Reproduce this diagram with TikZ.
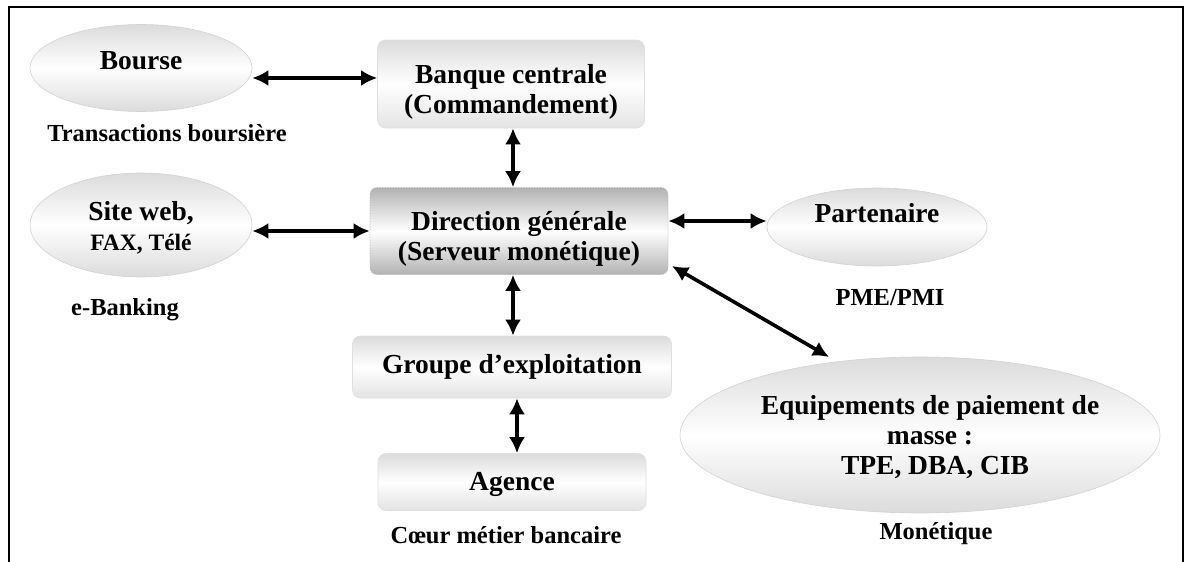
\documentclass[tikz,border=0pt]{standalone}
\usepackage{fontspec}
\setmainfont{Liberation Serif}
\usetikzlibrary{arrows.meta,shapes.geometric}
\begin{document}
\begin{tikzpicture}[x=1pt,y=-1pt,
  lbl/.style={font=\bfseries\fontsize{24.5}{28}\selectfont, align=center},
  big/.style={font=\bfseries\fontsize{27.5}{30}\selectfont, align=center},
  oval/.style={ellipse, draw=gray!35, line width=0.6pt, top color=gray!28, bottom color=gray!28, middle color=white, inner sep=0pt},
  pane/.style={rectangle, rounded corners=8pt, draw=gray!25, line width=0.6pt, top color=gray!28, bottom color=gray!22, middle color=white, inner sep=0pt},
  darkpane/.style={rectangle, rounded corners=7pt, draw=gray!60, densely dotted, line width=0.6pt, top color=gray!60, bottom color=gray!60, middle color=white, inner sep=0pt},
  link/.style={line width=3.6pt, {Latex[length=16pt,width=16pt]}-{Latex[length=16pt,width=16pt]}}
]
\useasboundingbox (0,0) rectangle (1186,562);
% outer frame, open at the bottom
\draw[line width=2pt] (9,562) -- (9,7) -- (1183,7) -- (1183,562);

% ellipses
\node[oval, minimum width=222pt, minimum height=87pt] (bourse) at (141,68) {};
\node[big] (bourseT) at (141,61) {Bourse};
\node[lbl] (bourseL) at (167,133) {Transactions boursière};

\node[oval, minimum width=222pt, minimum height=104pt] (site) at (141,225) {};
\node[big] (siteT) at (141,228) {Site web,\\[0pt]{\fontsize{23.5}{28}\selectfont FAX, Télé}};
\node[lbl] (siteL) at (125,310) {e-Banking};

\node[oval, minimum width=220pt, minimum height=78pt] (part) at (877,227) {};
\node[big] (partT) at (877,213) {Partenaire};
\node[lbl] (partL) at (890,298) {PME/PMI};

\node[oval, minimum width=480pt, minimum height=156pt] (equip) at (920,435) {};
\node[big] (equipT) at (930,437) {Equipements de paiement de\\masse :\\\hspace*{10pt}TPE, DBA, CIB};
\node[lbl] (equipL) at (936,534) {Monétique};

% boxes
\node[pane, minimum width=267pt, minimum height=88pt] (banque) at (511,84) {};
\node[big] (banqueT) at (511,92) {Banque centrale\\(Commandement)};

\node[darkpane, minimum width=298pt, minimum height=87pt] (dir) at (519,231) {};
\node[big] (dirT) at (519,239) {Direction générale\\(Serveur monétique)};

\node[pane, minimum width=319pt, minimum height=62pt] (grp) at (512,367) {};
\node[big] (grpT) at (512,367) {Groupe d’exploitation};

\node[pane, minimum width=268pt, minimum height=57pt] (ag) at (512,482) {};
\node[big] (agT) at (512,484) {Agence};
\node[lbl] (agL) at (506,535) {Cœur métier bancaire};

% connectors
\draw[link] (bourse.east |- 0,78) -- (banque.west |- 0,78);
\draw[link] (site.east |- 0,231) -- (dir.west |- 0,231);
\draw[link] (dir.east |- 0,221) -- (part.west |- 0,221);
\draw[link] (banque.south -| 513,0) -- (dir.north -| 513,0);
\draw[link] (dir.south -| 513,0) -- (grp.north -| 513,0);
\draw[link] (grp.south -| 517,0) -- (ag.north -| 517,0);
\coordinate (dse) at (672,266);
\coordinate (eqn) at (829,357);
\draw[link] (dse) -- (eqn);
\end{tikzpicture}
\end{document}
